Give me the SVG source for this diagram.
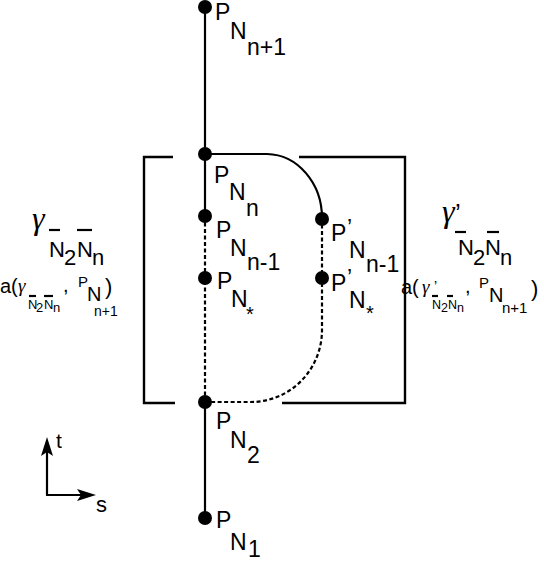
<svg xmlns="http://www.w3.org/2000/svg" width="544" height="562" viewBox="0 0 544 562">
<style>
text{font-family:"Liberation Sans",Arial,sans-serif;fill:#000}
.l{font-size:23px}
.g{font-size:22px}
.gam{font-family:"Liberation Serif","Times New Roman",serif;font-style:italic}
.ln{stroke:#000;stroke-width:2.2;fill:none}
.d{stroke-dasharray:4 2.5}
.br{stroke:#000;stroke-width:2.4;fill:none}
.a{font-size:20px}
.s{font-size:13px}
.ah{fill:#000;stroke:none}
</style>
<rect width="544" height="562" fill="#fff"/>
<g id="connectors">
<path class="ln" d="M205,7 V216"/>
<path class="ln d" d="M205,216 V402"/>
<path class="ln" d="M205,402 V518"/>
<path class="ln" d="M205,154 H267 A56 64 0 0 1 322 218"/>
<path class="ln d" d="M322,218 V330 A71 72 0 0 1 251 402 H205"/>
</g>
<g id="bracket-left">
<path class="br" d="M173,157 H144 V403 H175"/>
</g>
<g id="bracket-right">
<path class="br" d="M299,157 H405 V403 H282"/>
</g>
<g id="node-PNn1">
<circle cx="205" cy="7" r="7"/>
<text class="l" x="215" y="20">P</text>
<text class="l" x="230" y="39">N</text>
<text class="l" x="247" y="55">n+1</text>
</g>
<g id="node-PNn">
<circle cx="205" cy="154" r="7"/>
<text class="l" x="214" y="183">P</text>
<text class="l" x="229" y="200">N</text>
<text class="l" x="246" y="216">n</text>
</g>
<g id="node-PNn-1">
<circle cx="205" cy="216" r="7"/>
<text class="l" x="216" y="238">P</text>
<text class="l" x="230" y="256">N</text>
<text class="l" x="247" y="270">n-1</text>
</g>
<g id="node-PNstar">
<circle cx="205" cy="278" r="7"/>
<text class="l" x="217" y="289">P</text>
<text class="l" x="231" y="307">N</text>
<text class="a" x="246" y="321">*</text>
</g>
<g id="node-PpNn-1">
<circle cx="322" cy="219" r="7"/>
<text class="l" x="331" y="241">P</text>
<text class="l" x="347" y="236">’</text>
<text class="l" x="349" y="258">N</text>
<text class="l" x="366" y="272">n-1</text>
</g>
<g id="node-PpNstar">
<circle cx="322" cy="278" r="7"/>
<text class="l" x="331" y="291">P</text>
<text class="l" x="347" y="286">’</text>
<text class="l" x="349" y="308">N</text>
<text class="a" x="366" y="320">*</text>
</g>
<g id="node-PN2">
<circle cx="205" cy="402" r="7"/>
<text class="l" x="216" y="429">P</text>
<text class="l" x="230" y="448">N</text>
<text class="l" x="247" y="463">2</text>
</g>
<g id="node-PN1">
<circle cx="205" cy="518" r="7"/>
<text class="l" x="216" y="528">P</text>
<text class="l" x="230" y="550">N</text>
<text class="l" x="248" y="557">1</text>
</g>
<g id="label-gamma-left">
<text class="gam" x="32" y="229" font-size="32">γ</text>
<line class="ln" x1="49" y1="230" x2="60" y2="230" stroke-width="1.3"/>
<line class="ln" x1="77" y1="230" x2="92" y2="230" stroke-width="1.3"/>
<text class="g" x="49" y="257">N</text>
<text class="g" x="64" y="265">2</text>
<text class="g" x="77" y="257">N</text>
<text class="g" x="92" y="265">n</text>
<text class="a" x="0" y="293">a(</text>
<text class="gam" x="18" y="292" font-size="19">γ</text>
<line class="ln" x1="29" y1="296" x2="36" y2="296" stroke-width="1"/>
<line class="ln" x1="44" y1="296" x2="53" y2="296" stroke-width="1"/>
<text class="s" x="28" y="309">N</text>
<text class="s" x="36" y="312">2</text>
<text class="s" x="44" y="309">N</text>
<text class="s" x="53" y="312">n</text>
<text class="a" x="63" y="292">,</text>
<text x="78" y="287" font-size="15">P</text>
<text x="87" y="301" font-size="20">N</text>
<text x="94" y="316" font-size="14">n+1</text>
<text x="105" y="294" font-size="22">)</text>
</g>
<g id="label-gamma-right">
<text class="gam" x="442" y="222" font-size="32">γ</text>
<text x="455" y="222" font-size="26">’</text>
<line class="ln" x1="455" y1="232" x2="466" y2="232" stroke-width="1.3"/>
<line class="ln" x1="487" y1="232" x2="499" y2="232" stroke-width="1.3"/>
<text class="g" x="458" y="255">N</text>
<text class="g" x="473" y="265">2</text>
<text class="g" x="485" y="255">N</text>
<text class="g" x="500" y="265">n</text>
<text class="a" x="401" y="294">a(</text>
<text class="gam" x="422" y="293" font-size="19">γ</text>
<text x="434" y="291" font-size="14">’</text>
<line class="ln" x1="432" y1="296" x2="438" y2="296" stroke-width="1"/>
<line class="ln" x1="447" y1="296" x2="453" y2="296" stroke-width="1"/>
<text x="432" y="309" font-size="12.5">N</text>
<text x="441" y="312" font-size="12.5">2</text>
<text x="448" y="309" font-size="12.5">N</text>
<text x="457" y="312" font-size="12.5">n</text>
<text class="a" x="465" y="293">,</text>
<text x="479" y="288" font-size="15">P</text>
<text x="489" y="302" font-size="20">N</text>
<text x="502" y="313" font-size="15">n+1</text>
<text x="531" y="296" font-size="22">)</text>
</g>
<g id="axes">
<path class="ln" d="M47,495 V445"/>
<path class="ah" d="M47,437 L53,456 L47,452 L41,456 z"/>
<path class="ln" d="M46,495 H88"/>
<path class="ah" d="M96,495 L77,489 L81,495 L77,501 z"/>
<text x="56" y="448" font-size="21">t</text>
<text x="96" y="512" font-size="22">s</text>
</g>
</svg>
